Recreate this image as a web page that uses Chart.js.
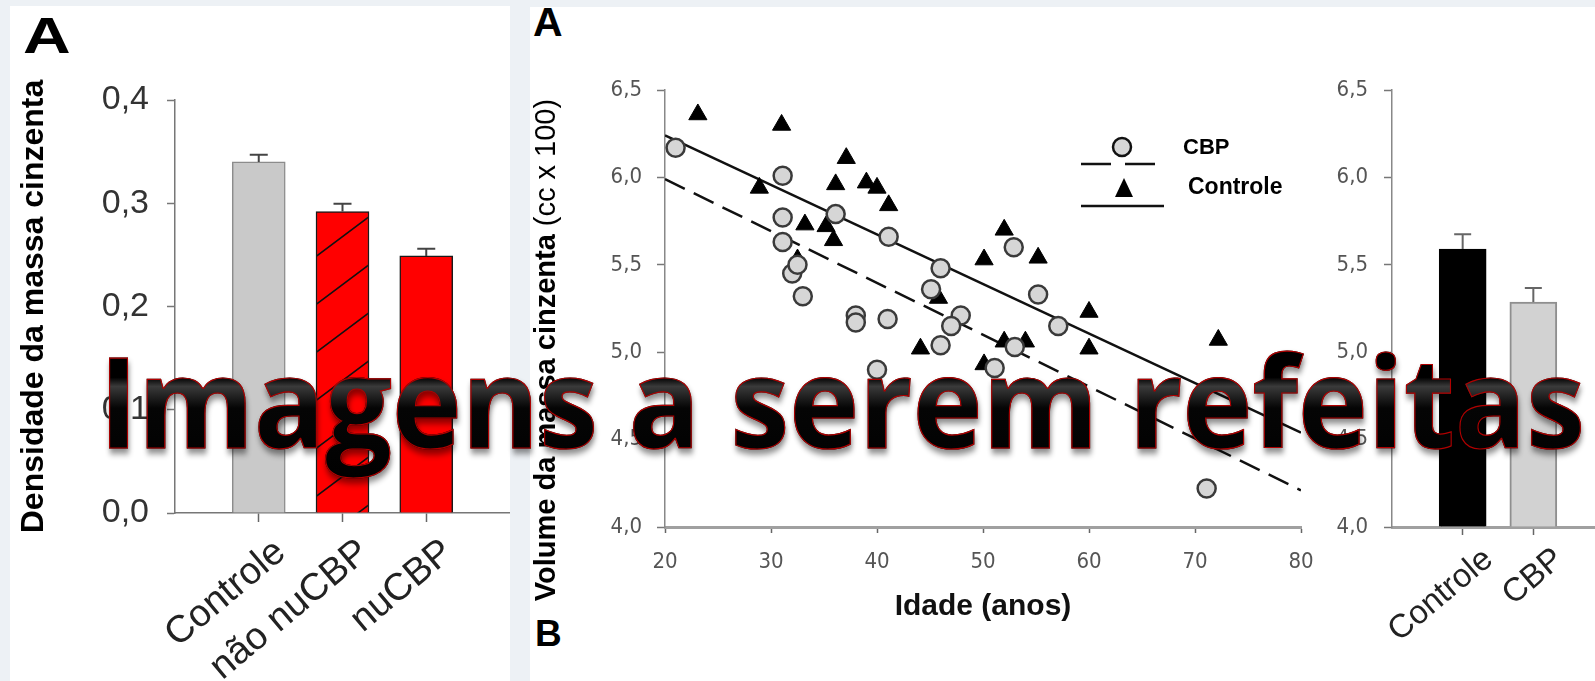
<!DOCTYPE html>
<html>
<head>
<meta charset="utf-8">
<script src="https://cdn.jsdelivr.net/npm/chart.js@4.4.0/dist/chart.umd.min.js"></script>
<style>
  html, body { margin: 0; padding: 0; }
  body { width: 1595px; height: 681px; overflow: hidden; position: relative; background: #edf1f5; font-family: "Liberation Sans", Arial, sans-serif; }
  .panel { position: absolute; background: #fff; }
  canvas { position: absolute; }
  .tag { position: absolute; font-weight: bold; color: #000; line-height: 1; transform-origin: 0 0; }
  #overlay {
    position: absolute; left: 99px; top: 309px; z-index: 10;
    font-family: "Open Sans", sans-serif; font-weight: 700; font-size: 126px; line-height: 180px;
    white-space: nowrap; color: transparent;
    background: linear-gradient(180deg, #000 0%, #000 38%, #3a3a3a 43%, #050505 55%, #000 100%);
    -webkit-background-clip: text; background-clip: text;
    -webkit-text-stroke: 1.2px #b00000;
    filter: drop-shadow(1px 5px 3px rgba(0,0,0,0.45));
    transform-origin: 0 0;
  }
</style>
</head>
<body>
<div class="panel" style="left:10px;top:6px;width:500px;height:675px"></div>
<div class="panel" style="left:530px;top:7px;width:1065px;height:674px"></div>
<div class="tag" style="left:23px;top:11px;font-size:50px;transform:scaleX(1.32)">A</div>
<div class="tag" style="left:533px;top:2px;font-size:41px">A</div>
<div class="tag" style="left:535px;top:615px;font-size:37px">B</div>
<canvas id="densityChart" width="500" height="675" style="left:10px;top:6px"></canvas>
<canvas id="volumeChart" width="800" height="674" style="left:532px;top:7px"></canvas>
<canvas id="groupChart" width="274" height="674" style="left:1330px;top:7px"></canvas>
<div id="overlay">Imagens a serem refeitas</div>

<script>
// painel esquerdo: densidade
const densityLabels = ['Controle', 'não nuCBP', 'nuCBP'];
const densityValues = [0.340, 0.292, 0.249];
const densityErrors = [0.007, 0.0075, 0.007];

// painel central: volume x idade
const cbpAge = [21.0, 31.1, 31.1, 31.1, 32.0, 32.5, 33.0, 36.1, 41.1, 38.0, 38.0, 41.0, 40.0, 46.0, 45.1, 47.9, 47.0, 46.0, 51.1, 52.9, 53.0, 55.2, 57.1, 71.1];
const cbpVolume = [6.17, 6.01, 5.77, 5.63, 5.45, 5.50, 5.32, 5.79, 5.66, 5.21, 5.17, 5.19, 4.90, 5.48, 5.36, 5.21, 5.15, 5.04, 4.91, 5.60, 5.03, 5.33, 5.15, 4.22];
const controleAge = [23.1, 31.0, 28.9, 33.2, 32.5, 35.2, 35.9, 36.1, 37.1, 39.0, 40.0, 41.1, 50.1, 52.0, 55.2, 60.0, 60.0, 44.1, 45.8, 50.1, 52.0, 54.0, 72.2];
const controleVolume = [6.36, 6.30, 5.94, 5.73, 5.53, 5.72, 5.64, 5.96, 6.11, 5.97, 5.94, 5.84, 5.53, 5.70, 5.54, 5.23, 5.02, 5.02, 5.31, 4.93, 5.06, 5.06, 5.07];
const fitAge = [20, 80];
const fitCbp = [5.99, 4.21];
const fitControle = [6.24, 4.54];

// painel direito: grupos
const groupLabels = ['Controle', 'CBP'];
const groupValues = [5.59, 5.287];
const groupErrors = [0.085, 0.08];

Chart.defaults.font.family = '"Liberation Sans", Arial, sans-serif';
Chart.defaults.animation = false;

const pad = (arr, v) => [v, ...arr, v];
const comma = v => Number(v).toFixed(1).replace('.', ',');
const narrow = '"Liberation Sans Narrow", "DejaVu Sans Condensed", "Liberation Sans", Arial';
const noSidePadding = s => { s.paddingLeft = 0; s.paddingRight = 0; };

// barras de erro
const errorBars = {
    id: 'errorBars',
    afterDatasetsDraw(chart, args, opts) {
        const ctx = chart.ctx;
        const y = chart.scales.y;
        const data = chart.data.datasets[0].data;
        ctx.save();
        ctx.strokeStyle = opts.color;
        ctx.lineWidth = opts.width;
        chart.getDatasetMeta(0).data.forEach((bar, i) => {
            const v = data[i], e = opts.errors[i];
            if (v == null || e == null) return;
            const top = y.getPixelForValue(v + e);
            ctx.beginPath();
            ctx.moveTo(bar.x, bar.y);
            ctx.lineTo(bar.x, top);
            ctx.moveTo(bar.x - opts.cap / 2, top);
            ctx.lineTo(bar.x + opts.cap / 2, top);
            ctx.stroke();
        });
        ctx.restore();
    }
};

// hachura da barra "não nuCBP"
function hatch() {
    const c = document.createElement('canvas');
    c.width = 64; c.height = 48;
    const g = c.getContext('2d');
    g.fillStyle = '#ff0000';
    g.fillRect(0, 0, 64, 48);
    g.strokeStyle = '#111';
    g.lineWidth = 1.6;
    g.beginPath();
    for (let k = -1; k <= 1; k++) {
        g.moveTo(-10, 48 + 7.5 + k * 48);
        g.lineTo(74, 48 - 55.5 + k * 48);
    }
    g.stroke();
    return g.createPattern(c, 'repeat');
}

const hideEnds = n => c => (c.index === 0 || c.index === n - 1) ? 'rgba(0,0,0,0)' : '#666';

// mapa de densidade
const dLabels = pad(densityLabels, '');
new Chart(document.getElementById('densityChart'), {
    type: 'bar',
    data: {
        labels: dLabels,
        datasets: [{
            data: pad(densityValues, null),
            backgroundColor: ['#fff', '#c9c9c9', hatch(), '#ff0000', '#fff'],
            borderColor: ['#fff', '#8c8c8c', '#1a1a1a', '#1a1a1a', '#fff'],
            borderWidth: 1.5,
            barThickness: 53
        }]
    },
    options: {
        responsive: false,
        layout: { padding: { top: 94, right: 0, left: 0, bottom: 0 } },
        plugins: {
            legend: { display: false },
            tooltip: { enabled: false },
            errorBars: { errors: pad(densityErrors, null), color: '#444', width: 2, cap: 18 }
        },
        scales: {
            x: {
                offset: false,
                grid: { display: true, offset: false, drawOnChartArea: false, tickLength: 9, tickWidth: 1.5, tickColor: hideEnds(dLabels.length) },
                border: { color: '#777', width: 1.5 },
                ticks: { color: '#222', font: { size: 38 }, minRotation: 40, maxRotation: 40, autoSkip: false, padding: 8, labelOffset: 22 },
                afterFit: s => { s.height = 168; noSidePadding(s); }
            },
            y: {
                min: 0, max: 0.4,
                ticks: { stepSize: 0.1, color: '#333', font: { size: 34 }, padding: 18, callback: comma },
                grid: { drawOnChartArea: false, tickLength: 8, tickWidth: 1.5, tickColor: '#777' },
                border: { color: '#777', width: 1.5 },
                title: { display: true, text: 'Densidade da massa cinzenta', color: '#000', font: { size: 32, weight: 'bold' }, padding: { top: 5, bottom: 0 } },
                afterFit: s => { s.width = 165; }
            }
        }
    },
    plugins: [errorBars]
});

// título do eixo y e legenda do gráfico de dispersão
const volumeDecor = {
    id: 'volumeDecor',
    afterDraw(chart) {
        const ctx = chart.ctx;
        const t1 = 'Volume da massa cinzenta ', t2 = '(cc x 100)';
        const bold = 'bold 29px "Liberation Sans", Arial', reg = '29px "Liberation Sans", Arial';
        ctx.save();
        ctx.font = bold; const w1 = ctx.measureText(t1).width;
        ctx.font = reg; const w2 = ctx.measureText(t2).width;
        ctx.translate(15, 343);
        ctx.rotate(-Math.PI / 2);
        ctx.fillStyle = '#000';
        ctx.textBaseline = 'middle';
        ctx.font = bold; ctx.fillText(t1, -(w1 + w2) / 2, 0);
        ctx.font = reg; ctx.fillText(t2, -(w1 + w2) / 2 + w1, 0);
        ctx.restore();

        // legenda
        ctx.save();
        ctx.lineWidth = 2.5;
        ctx.strokeStyle = '#111';
        ctx.fillStyle = '#d6d6d6';
        ctx.beginPath(); ctx.arc(590, 140, 9, 0, Math.PI * 2); ctx.fill(); ctx.stroke();
        ctx.setLineDash([30, 14]);
        ctx.beginPath(); ctx.moveTo(549, 157); ctx.lineTo(623, 157); ctx.stroke();
        ctx.setLineDash([]);
        ctx.beginPath(); ctx.moveTo(549, 199); ctx.lineTo(632, 199); ctx.stroke();
        ctx.fillStyle = '#000';
        ctx.beginPath(); ctx.moveTo(592, 171); ctx.lineTo(601, 190); ctx.lineTo(583, 190); ctx.closePath(); ctx.fill();
        ctx.textBaseline = 'middle';
        ctx.font = 'bold 22px "Liberation Sans", Arial';
        ctx.fillText('CBP', 651, 141);
        ctx.font = 'bold 23px "Liberation Sans", Arial';
        ctx.fillText('Controle', 656, 181);
        ctx.restore();
    }
};

new Chart(document.getElementById('volumeChart'), {
    type: 'scatter',
    data: {
        datasets: [
            {
                label: 'CBP',
                data: cbpAge.map((a, i) => ({ x: a, y: cbpVolume[i] })),
                pointStyle: 'circle', pointRadius: 9,
                backgroundColor: '#d6d6d6', borderColor: '#3a3a3a', borderWidth: 2.5
            },
            {
                label: 'Controle',
                data: controleAge.map((a, i) => ({ x: a, y: controleVolume[i] })),
                pointStyle: 'triangle', pointRadius: 10.5,
                backgroundColor: '#000', borderColor: '#000', borderWidth: 1
            },
            {
                type: 'line', label: 'CBP ajuste',
                data: fitAge.map((a, i) => ({ x: a, y: fitCbp[i] })),
                borderColor: '#111', borderWidth: 2.5, borderDash: [22, 10], pointRadius: 0, fill: false
            },
            {
                type: 'line', label: 'Controle ajuste',
                data: fitAge.map((a, i) => ({ x: a, y: fitControle[i] })),
                borderColor: '#111', borderWidth: 2.5, pointRadius: 0, fill: false
            }
        ]
    },
    options: {
        responsive: false,
        layout: { padding: { top: 83, right: 31, left: 0, bottom: 0 } },
        plugins: { legend: { display: false }, tooltip: { enabled: false } },
        scales: {
            x: {
                type: 'linear', min: 20, max: 80,
                ticks: { stepSize: 10, color: '#555', font: { size: 22, family: narrow }, padding: 16 },
                grid: { drawOnChartArea: false, tickLength: 6, tickWidth: 1.5, tickColor: '#666' },
                border: { color: '#a0a0a0', width: 3 },
                title: { display: true, text: 'Idade (anos)', color: '#111', font: { size: 30, weight: 'bold' }, padding: { top: 0, bottom: 56 } },
                afterFit: s => { s.height = 154; noSidePadding(s); }
            },
            y: {
                min: 4, max: 6.5,
                ticks: { stepSize: 0.5, color: '#555', font: { size: 22, family: narrow }, padding: 15, callback: comma },
                grid: { drawOnChartArea: false, tickLength: 8, tickWidth: 1.5, tickColor: '#777' },
                border: { color: '#888', width: 1.5 },
                afterFit: s => { s.width = 133; }
            }
        }
    },
    plugins: [volumeDecor]
});

// barras Controle x CBP
const gLabels = ['', ...groupLabels, ''];
new Chart(document.getElementById('groupChart'), {
    type: 'bar',
    data: {
        labels: gLabels,
        datasets: [{
            data: [null, ...groupValues, null],
            base: 4,
            backgroundColor: ['#fff', '#000', '#d2d2d2', '#fff'],
            borderColor: ['#fff', '#000', '#8f8f8f', '#fff'],
            borderWidth: 2,
            barThickness: 47
        }]
    },
    options: {
        responsive: false,
        layout: { padding: { top: 83, right: 0, left: 0, bottom: 0 } },
        plugins: {
            legend: { display: false },
            tooltip: { enabled: false },
            errorBars: { errors: [null, ...groupErrors, null], color: '#666', width: 2, cap: 17 }
        },
        scales: {
            x: {
                offset: false,
                grid: { display: true, offset: false, drawOnChartArea: false, tickLength: 8, tickWidth: 1.5, tickColor: hideEnds(gLabels.length) },
                border: { color: '#a0a0a0', width: 3 },
                ticks: { color: '#222', font: { size: 33 }, minRotation: 40, maxRotation: 40, autoSkip: false, padding: 5, labelOffset: 26 },
                afterFit: s => { s.height = 154; noSidePadding(s); }
            },
            y: {
                min: 4, max: 6.5,
                ticks: { stepSize: 0.5, color: '#555', font: { size: 22, family: narrow }, padding: 16, callback: comma },
                grid: { drawOnChartArea: false, tickLength: 8, tickWidth: 1.5, tickColor: '#777' },
                border: { color: '#888', width: 1.5 },
                afterFit: s => { s.width = 62; }
            }
        }
    },
    plugins: [errorBars]
});

// ajusta a largura do texto sobreposto
const ov = document.getElementById('overlay');
ov.style.transform = 'scaleX(' + (1486 / ov.getBoundingClientRect().width) + ')';
</script>
</body>
</html>
